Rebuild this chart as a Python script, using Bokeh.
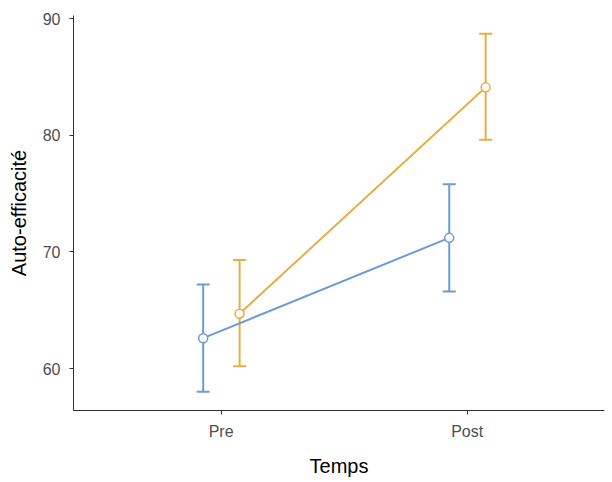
from bokeh.plotting import figure
from bokeh.models import ColumnDataSource, Whisker, TeeHead, FixedTicker, Range1d
from bokeh.embed import file_html
from bokeh.resources import INLINE

categories = ["Pre", "Post"]
group_names = ["Groupe A", "Groupe B"]
colors = ["#6c9bd6", "#e6ae48"]
offsets = [-0.073, 0.075]

means_a = [62.6, 71.2]
lower_a = [58.0, 66.6]
upper_a = [67.2, 75.8]

means_b = [64.7, 84.1]
lower_b = [60.2, 79.6]
upper_b = [69.3, 88.7]

y_ticks = [60, 70, 80, 90]

p = figure(width=608, height=480, output_backend="svg", toolbar_location=None,
           x_range=Range1d(0.4, 2.558), y_range=Range1d(56.4, 90.26),
           min_border_left=73, min_border_right=4, min_border_top=15, min_border_bottom=70)
p.outline_line_color = None
p.xgrid.visible = False
p.ygrid.visible = False
p.background_fill_color = "white"
p.border_fill_color = "white"

series = [(means_a, lower_a, upper_a), (means_b, lower_b, upper_b)]
for (m, lo, up), col, off in zip(series, colors, offsets):
    xs = [i + 1 + off for i in range(len(categories))]
    src = ColumnDataSource(dict(x=xs, y=m, lower=lo, upper=up))
    w = Whisker(base="x", lower="lower", upper="upper", source=src,
                line_color=col, line_width=2,
                upper_head=TeeHead(size=13, line_color=col, line_width=2),
                lower_head=TeeHead(size=13, line_color=col, line_width=2))
    p.add_layout(w)
    p.line("x", "y", source=src, line_color=col, line_width=2)
    p.scatter("x", "y", source=src, size=9, fill_color="white", line_color=col, line_width=1.5)

p.xaxis.ticker = FixedTicker(ticks=[1, 2])
p.xaxis.major_label_overrides = {1: categories[0], 2: categories[1]}
p.yaxis.ticker = FixedTicker(ticks=y_ticks)

for ax in (p.xaxis, p.yaxis):
    ax.axis_line_color = "#333333"
    ax.axis_line_width = 1
    ax.major_tick_line_color = "#333333"
    ax.major_tick_line_width = 1
    ax.major_tick_out = 4
    ax.major_tick_in = 0
    ax.minor_tick_line_color = None
    ax.major_label_text_color = "#4d4d4d"
    ax.major_label_text_font = "Liberation Sans"
    ax.major_label_text_font_size = "16px"
    ax.axis_label_text_font = "Liberation Sans"
    ax.axis_label_text_font_style = "normal"
    ax.axis_label_text_font_size = "20px"
    ax.axis_label_text_color = "black"

p.xaxis.axis_label = "Temps"
p.yaxis.axis_label = "Auto-efficacité"
p.xaxis.major_label_standoff = 8
p.yaxis.major_label_standoff = 9
p.xaxis.axis_label_standoff = 12
p.yaxis.axis_label_standoff = 10

open("out.html", "w").write(file_html(p, INLINE))
